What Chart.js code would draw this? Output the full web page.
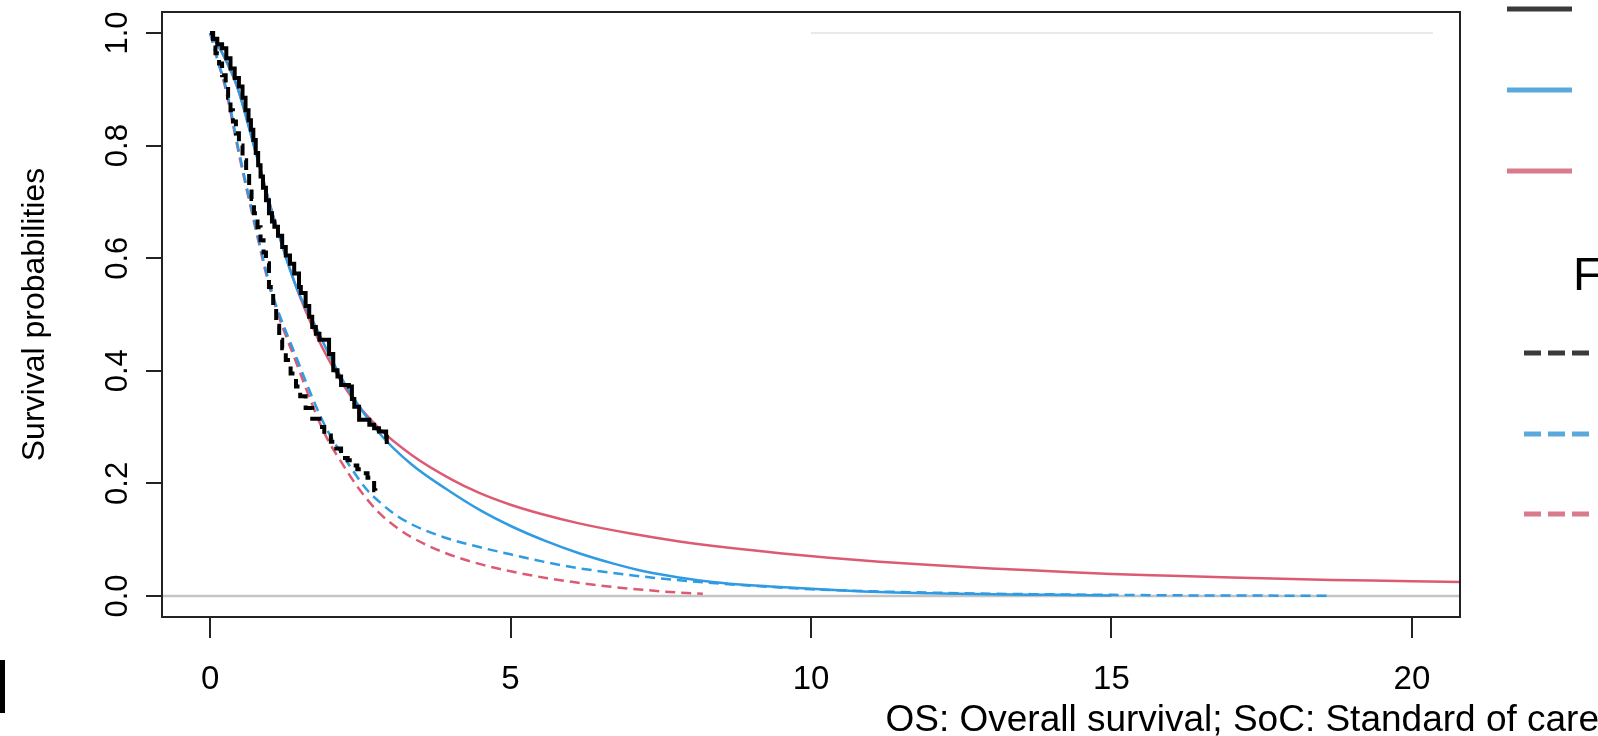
<!DOCTYPE html>
<html>
<head>
<meta charset="utf-8">
<script src="https://cdn.jsdelivr.net/npm/chart.js@4.4.1/dist/chart.umd.min.js"></script>
<style>
  html, body { margin: 0; padding: 0; background: #fff; }
  #wrap { width: 1598px; height: 736px; }
</style>
</head>
<body>
<div id="wrap"><canvas id="survChart" width="1598" height="736"></canvas></div>
<script>
// tick labels
var xTickValues = [0, 5, 10, 15, 20];
var yTickValues = [0, 0.2, 0.4, 0.6, 0.8, 1.0];
var yTickLabels = ['0.0', '0.2', '0.4', '0.6', '0.8', '1.0'];

// Kaplan-Meier, solid (OS)
var kmSolidT = [0, 0.05, 0.12, 0.2, 0.27, 0.34, 0.41, 0.48, 0.54, 0.59, 0.64, 0.68, 0.72, 0.76, 0.8, 0.84, 0.88, 0.93, 0.98, 1.03, 1.07, 1.13, 1.2, 1.26, 1.33, 1.4, 1.48, 1.51, 1.59, 1.65, 1.7, 1.76, 1.82, 1.98, 2.05, 2.12, 2.18, 2.31, 2.36, 2.4, 2.48, 2.65, 2.73, 2.81, 2.93, 2.94];
var kmSolidS = [1.0, 0.99, 0.98, 0.973, 0.955, 0.937, 0.92, 0.905, 0.885, 0.863, 0.845, 0.828, 0.81, 0.787, 0.765, 0.745, 0.725, 0.703, 0.68, 0.665, 0.656, 0.64, 0.62, 0.605, 0.59, 0.573, 0.549, 0.538, 0.515, 0.496, 0.478, 0.466, 0.455, 0.43, 0.401, 0.39, 0.375, 0.372, 0.35, 0.336, 0.313, 0.304, 0.298, 0.292, 0.283, 0.27];

// Kaplan-Meier, dashed (PFS)
var kmDashT = [0, 0.05, 0.09, 0.15, 0.2, 0.26, 0.3, 0.34, 0.38, 0.43, 0.48, 0.54, 0.6, 0.65, 0.69, 0.73, 0.79, 0.84, 0.89, 0.93, 0.98, 1.01, 1.05, 1.1, 1.15, 1.2, 1.26, 1.34, 1.43, 1.5, 1.59, 1.7, 1.82, 1.9, 2.01, 2.1, 2.18, 2.29, 2.36, 2.45, 2.53, 2.62, 2.73, 2.75];
var kmDashS = [1.0, 0.98, 0.964, 0.946, 0.925, 0.905, 0.885, 0.863, 0.843, 0.822, 0.8, 0.774, 0.75, 0.727, 0.705, 0.68, 0.655, 0.632, 0.61, 0.591, 0.549, 0.541, 0.51, 0.48, 0.455, 0.44, 0.419, 0.395, 0.372, 0.355, 0.334, 0.315, 0.3, 0.285, 0.274, 0.262, 0.245, 0.241, 0.232, 0.225, 0.218, 0.21, 0.188, 0.175];

// fitted curves, solid
var blueSolidT = [0, 0.2, 0.45, 0.76, 1.07, 1.43, 1.76, 2.0, 2.31, 2.81, 3.36, 3.93, 4.5, 5.03, 5.6, 6.14, 6.7, 7.26, 7.8, 8.36, 9.0, 9.48, 10.3, 11.14, 12, 13, 14, 15];
var blueSolidS = [1.0, 0.965, 0.905, 0.787, 0.668, 0.55, 0.478, 0.425, 0.365, 0.29, 0.233, 0.19, 0.152, 0.123, 0.097, 0.076, 0.058, 0.043, 0.033, 0.025, 0.019, 0.016, 0.011, 0.007, 0.005, 0.003, 0.002, 0.001];
var redSolidT = [0, 0.2, 0.45, 0.76, 1.07, 1.43, 1.76, 2.0, 2.31, 2.81, 3.36, 4.0, 4.48, 5.0, 5.5, 6.14, 7.0, 7.81, 8.6, 9.48, 10.3, 11.14, 12, 13, 14, 15, 16, 17, 18, 19, 20, 20.8];
var redSolidS = [1.0, 0.965, 0.905, 0.79, 0.668, 0.55, 0.465, 0.415, 0.36, 0.298, 0.25, 0.208, 0.183, 0.162, 0.146, 0.129, 0.111, 0.097, 0.086, 0.076, 0.068, 0.061, 0.055, 0.049, 0.044, 0.039, 0.036, 0.033, 0.03, 0.028, 0.026, 0.025];

// fitted curves, dashed
var blueDashT = [0, 0.13, 0.26, 0.48, 0.73, 1.0, 1.45, 1.9, 2.3, 2.6, 2.81, 3.1, 3.36, 3.9, 4.48, 5.0, 5.59, 6.1, 6.7, 7.5, 8.36, 9.2, 10, 11.14, 12, 13, 14, 15, 16.5, 18.6];
var blueDashS = [1.0, 0.95, 0.905, 0.79, 0.67, 0.55, 0.42, 0.305, 0.235, 0.19, 0.168, 0.143, 0.127, 0.104, 0.087, 0.074, 0.06, 0.05, 0.041, 0.031, 0.023, 0.017, 0.012, 0.008, 0.006, 0.004, 0.003, 0.002, 0.001, 0.0005];
var redDashT = [0, 0.13, 0.26, 0.48, 0.73, 1.0, 1.45, 1.9, 2.2, 2.48, 2.81, 3.1, 3.36, 3.9, 4.48, 5.0, 5.59, 6.1, 6.7, 7.2, 7.81, 8.2];
var redDashS = [1.0, 0.95, 0.9, 0.785, 0.665, 0.545, 0.41, 0.29, 0.235, 0.19, 0.148, 0.122, 0.104, 0.077, 0.057, 0.044, 0.032, 0.024, 0.016, 0.011, 0.006, 0.004];

// reference lines
var zeroLineX = [-1, 22];
var zeroLineY = [0, 0];
var topLineX = [10, 20.35];
var topLineY = [1.0, 1.0];

var caption = 'OS: Overall survival; SoC: Standard of care';
var legendHeader = 'F';

var FONT = '"Liberation Sans", Arial, sans-serif';
var NARROW = '"Liberation Sans Narrow", "Arial Narrow", "Liberation Sans", Arial, sans-serif';
var BLUE = '#2f9be3';
var RED = '#dd5a73';

function pts(xs, ys) {
    return xs.map(function (x, i) { return { x: x, y: ys[i] }; });
}

var extras = {
    id: 'extras',
    afterDraw: function (chart) {
        var ctx = chart.ctx, a = chart.chartArea, ys = chart.scales.y;
        ctx.save();
        // box
        ctx.strokeStyle = '#222';
        ctx.lineWidth = 2;
        ctx.strokeRect(a.left, a.top, a.right - a.left, a.bottom - a.top);

        // y tick labels, rotated like R
        ctx.fillStyle = '#000';
        ctx.font = '31px ' + FONT;
        ctx.textAlign = 'center';
        ctx.textBaseline = 'middle';
        yTickValues.forEach(function (v, i) {
            ctx.save();
            ctx.translate(118, ys.getPixelForValue(v));
            ctx.rotate(-Math.PI / 2);
            ctx.fillText(yTickLabels[i], 0, 0);
            ctx.restore();
        });

        // caption
        ctx.font = '37px ' + FONT;
        ctx.textAlign = 'right';
        ctx.textBaseline = 'alphabetic';
        ctx.fillText(caption, 1599, 731);

        // cut off glyph from the next panel
        ctx.fillRect(0, 660, 5, 53);

        // legend (cut off at the right edge)
        ctx.lineWidth = 5;
        [['#3a3a3a', 9], ['#5aa9dc', 90], ['#d97b8d', 171]].forEach(function (l) {
            ctx.strokeStyle = l[0];
            ctx.setLineDash([]);
            ctx.beginPath(); ctx.moveTo(1507, l[1]); ctx.lineTo(1572, l[1]); ctx.stroke();
        });
        [['#3a3a3a', 353], ['#5aa9dc', 434], ['#d97b8d', 514]].forEach(function (l) {
            ctx.strokeStyle = l[0];
            ctx.setLineDash([17, 7]);
            ctx.beginPath(); ctx.moveTo(1524, l[1]); ctx.lineTo(1589, l[1]); ctx.stroke();
        });
        ctx.setLineDash([]);
        ctx.font = '47px ' + FONT;
        ctx.textAlign = 'left';
        ctx.fillText(legendHeader, 1573, 290);
        ctx.restore();
    }
};

var ctx = document.getElementById('survChart').getContext('2d');
var survChart = new Chart(ctx, {
    type: 'scatter',
    data: {
        datasets: [
            { label: 'KM OS', data: pts(kmSolidT, kmSolidS), borderColor: '#000', borderWidth: 4, stepped: 'before', order: 0 },
            { label: 'KM PFS', data: pts(kmDashT, kmDashS), borderColor: '#000', borderWidth: 4, borderDash: [11, 7], stepped: 'before', order: 1 },
            { label: 'fit 1 OS', data: pts(blueSolidT, blueSolidS), borderColor: BLUE, borderWidth: 2.5, cubicInterpolationMode: 'monotone', order: 2 },
            { label: 'fit 2 OS', data: pts(redSolidT, redSolidS), borderColor: RED, borderWidth: 2.5, cubicInterpolationMode: 'monotone', order: 3 },
            { label: 'fit 1 PFS', data: pts(blueDashT, blueDashS), borderColor: BLUE, borderWidth: 2.5, borderDash: [10, 6], cubicInterpolationMode: 'monotone', order: 4 },
            { label: 'fit 2 PFS', data: pts(redDashT, redDashS), borderColor: RED, borderWidth: 2.5, borderDash: [10, 6], cubicInterpolationMode: 'monotone', order: 5 },
            { label: 'zero', data: pts(zeroLineX, zeroLineY), borderColor: '#c4c4c4', borderWidth: 2.5, order: 6 },
            { label: 'top', data: pts(topLineX, topLineY), borderColor: '#e2e2e2', borderWidth: 1.5, order: 7 }
        ]
    },
    options: {
        responsive: false,
        animation: false,
        devicePixelRatio: 1,
        showLine: true,
        elements: { point: { radius: 0, hoverRadius: 0 } },
        layout: { padding: { top: 12, right: 138, left: 0, bottom: 0 } },
        plugins: { legend: { display: false }, tooltip: { enabled: false } },
        events: [],
        scales: {
            x: {
                type: 'linear',
                min: -0.8,
                max: 20.8,
                afterFit: function (s) { s.height = 119; },
                afterBuildTicks: function (s) { s.ticks = xTickValues.map(function (v) { return { value: v }; }); },
                grid: { drawOnChartArea: false, drawTicks: true, tickLength: 21, color: '#222', lineWidth: 2 },
                border: { display: false },
                ticks: { color: '#000', font: { family: NARROW, size: 33 }, padding: 22, maxRotation: 0,
                    callback: function (v) { return String(v); } }
            },
            y: {
                type: 'linear',
                min: -0.0373,
                max: 1.0373,
                afterFit: function (s) { s.width = 162; },
                afterBuildTicks: function (s) { s.ticks = yTickValues.map(function (v) { return { value: v }; }); },
                grid: { drawOnChartArea: false, drawTicks: true, tickLength: 16, color: '#222', lineWidth: 2 },
                border: { display: false },
                ticks: { display: false },
                title: { display: true, text: 'Survival probabilities', color: '#000',
                    font: { family: FONT, size: 32 }, padding: { top: 16, bottom: 0 } }
            }
        }
    },
    plugins: [extras]
});
</script>
</body>
</html>
